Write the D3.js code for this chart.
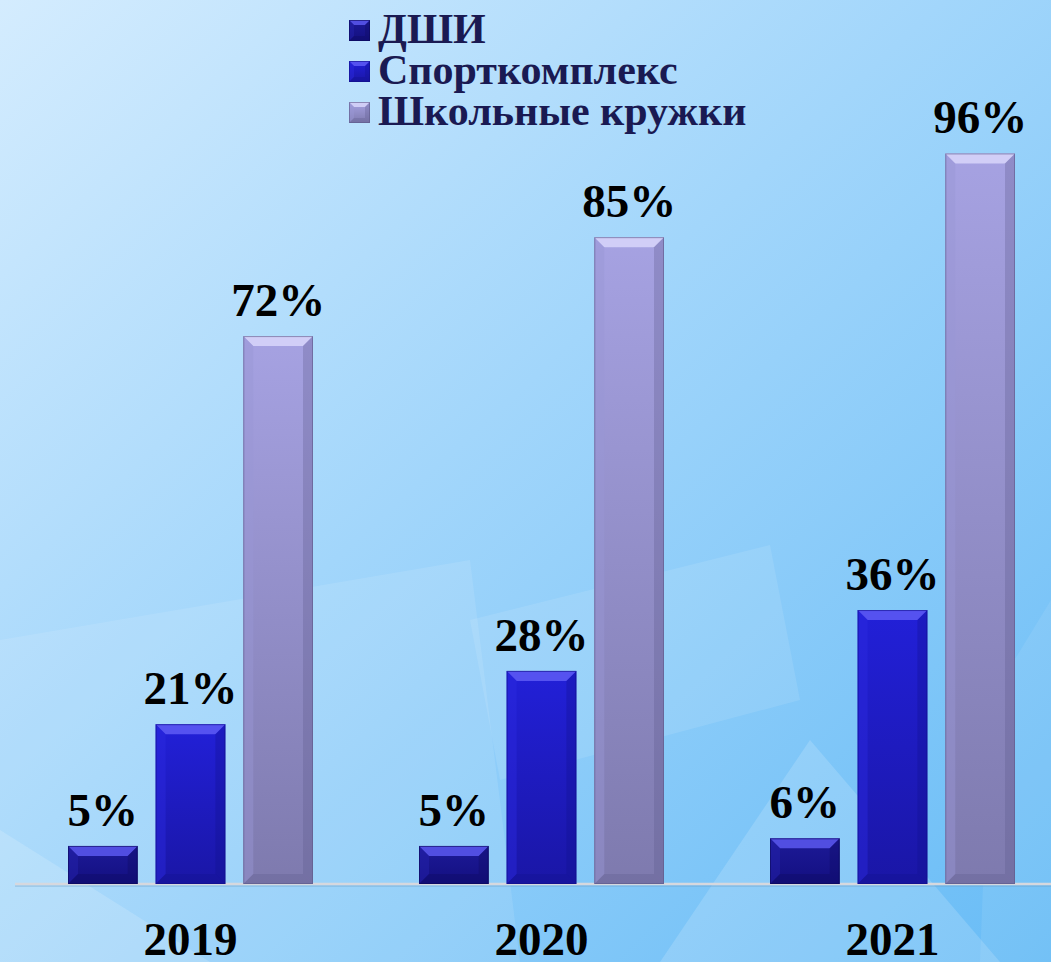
<!DOCTYPE html>
<html>
<head>
<meta charset="utf-8">
<script src="https://cdn.jsdelivr.net/npm/d3@7"></script>
<style>
  html, body { margin: 0; padding: 0; overflow: hidden; }
  svg { display: block; }
</style>
</head>
<body>
<div id="chart"></div>
<script>
var years = ["2019", "2020", "2021"];
var seriesNames = ["ДШИ", "Спорткомплекс", "Школьные кружки"];
var dshi = [5, 5, 6];
var sport = [21, 28, 36];
var kruzhki = [72, 85, 96];

var width = 1051, height = 962;
var baseY = 884;

var seriesValues = [dshi, sport, kruzhki];
var palette = [
  { top: "#1d1a98", bottom: "#130f80", bevel: "#5a58ee", side: "#2624b0", dark: "#0c0a5a" },
  { top: "#2220d8", bottom: "#1a16a6", bevel: "#5e5cf4", side: "#2c2ae0", dark: "#10108a" },
  { top: "#a6a2e2", bottom: "#7e7aae", bevel: "#d8d6fa", side: "#9a96d4", dark: "#5e5a8a" }
];

var svg = d3.select("#chart").append("svg")
  .attr("width", width)
  .attr("height", height);

var defs = svg.append("defs");

// background
var bg = defs.append("linearGradient").attr("id", "bg")
  .attr("x1", "0").attr("y1", "0").attr("x2", "1").attr("y2", "1");
bg.append("stop").attr("offset", "0").attr("stop-color", "#d4ecfe");
bg.append("stop").attr("offset", "0.45").attr("stop-color", "#a2d6fb");
bg.append("stop").attr("offset", "1").attr("stop-color", "#68bcf6");

svg.append("rect").attr("width", width).attr("height", height).attr("fill", "url(#bg)");

var shapes = [
  { pts: [[0, 640], [470, 560], [520, 962], [0, 962]], o: 0.1 },
  { pts: [[0, 830], [210, 962], [0, 962]], o: 0.16 },
  { pts: [[470, 620], [770, 545], [800, 700], [500, 780]], o: 0.1 },
  { pts: [[660, 962], [810, 740], [1000, 962]], o: 0.16 },
  { pts: [[990, 700], [1051, 600], [1051, 962], [980, 962]], o: 0.08 }
];
svg.append("g").selectAll("polygon")
  .data(shapes)
  .enter()
  .append("polygon")
  .attr("points", function (d) { return d.pts.map(function (p) { return p.join(","); }).join(" "); })
  .attr("fill", "#ffffff")
  .attr("opacity", function (d) { return d.o; });

palette.forEach(function (p, i) {
  var g = defs.append("linearGradient").attr("id", "bar" + i)
    .attr("x1", "0").attr("y1", "0").attr("x2", "0").attr("y2", "1");
  g.append("stop").attr("offset", "0").attr("stop-color", p.top);
  g.append("stop").attr("offset", "1").attr("stop-color", p.bottom);
});

var x0 = d3.scaleBand().domain(years).range([15, 1068]).paddingInner(0.302).paddingOuter(0.151);
var x1 = d3.scaleBand().domain(d3.range(seriesNames.length)).range([0, x0.bandwidth()]).paddingInner(0.2045);
var y = d3.scaleLinear().domain([0, 100]).range([baseY, 123]);

// baseline
svg.append("line")
  .attr("x1", 15).attr("x2", width)
  .attr("y1", baseY + 2).attr("y2", baseY + 2)
  .attr("stroke", "#6a9cc4").attr("stroke-width", 1).attr("opacity", 0.6);
svg.append("line")
  .attr("x1", 15).attr("x2", width)
  .attr("y1", baseY).attr("y2", baseY)
  .attr("stroke", "#d6d8de").attr("stroke-width", 2.5);

function drawBevelBox(sel, bx, by, bw, bh, i, e) {
  var p = palette[i];
  e = Math.min(e, bh / 2, bw / 2);
  sel.append("rect")
    .attr("x", bx).attr("y", by).attr("width", bw).attr("height", bh)
    .attr("fill", "url(#bar" + i + ")");
  // top bevel
  sel.append("polygon")
    .attr("points", [[bx, by], [bx + bw, by], [bx + bw - e, by + e], [bx + e, by + e]].join(" "))
    .attr("fill", p.bevel).attr("opacity", 0.85);
  // left bevel
  sel.append("polygon")
    .attr("points", [[bx, by], [bx + e, by + e], [bx + e, by + bh - e], [bx, by + bh]].join(" "))
    .attr("fill", p.side).attr("opacity", 0.45);
  // right bevel
  sel.append("polygon")
    .attr("points", [[bx + bw, by], [bx + bw - e, by + e], [bx + bw - e, by + bh - e], [bx + bw, by + bh]].join(" "))
    .attr("fill", p.dark).attr("opacity", 0.3);
  // bottom bevel
  sel.append("polygon")
    .attr("points", [[bx, by + bh], [bx + e, by + bh - e], [bx + bw - e, by + bh - e], [bx + bw, by + bh]].join(" "))
    .attr("fill", p.dark).attr("opacity", 0.3);
  sel.append("rect")
    .attr("x", bx + 0.5).attr("y", by + 0.5).attr("width", bw - 1).attr("height", bh - 1)
    .attr("fill", "none").attr("stroke", p.dark).attr("stroke-width", 1).attr("opacity", 0.6);
}

var groups = svg.append("g").selectAll("g")
  .data(years)
  .enter()
  .append("g")
  .attr("transform", function (d) { return "translate(" + x0(d) + ",0)"; });

groups.each(function (year, yi) {
  var g = d3.select(this);
  seriesValues.forEach(function (vals, si) {
    var v = vals[yi];
    var bx = x1(si), by = y(v), bw = x1.bandwidth(), bh = baseY - y(v);
    drawBevelBox(g.append("g"), bx, by, bw, bh, si, 10);
    g.append("text")
      .attr("x", bx + bw / 2)
      .attr("y", by - 20)
      .attr("text-anchor", "middle")
      .attr("font-family", "'Liberation Serif', 'Times New Roman', serif")
      .attr("font-weight", "bold")
      .attr("font-size", 47)
      .attr("fill", "#000")
      .text(v + "%");
  });
});

// category labels
svg.append("g").selectAll("text")
  .data(years)
  .enter()
  .append("text")
  .attr("x", function (d) { return x0(d) + x0.bandwidth() / 2; })
  .attr("y", 955)
  .attr("text-anchor", "middle")
  .attr("font-family", "'Liberation Serif', 'Times New Roman', serif")
  .attr("font-weight", "bold")
  .attr("font-size", 47)
  .attr("fill", "#000")
  .text(function (d) { return d; });

// legend
var legendY = [43, 84, 125];
var legend = svg.append("g").selectAll("g")
  .data(seriesNames)
  .enter()
  .append("g")
  .attr("transform", function (d, i) { return "translate(349," + legendY[i] + ")"; });

legend.each(function (d, i) {
  drawBevelBox(d3.select(this), 0, -23, 21, 21, i, 5);
});
legend.append("text")
  .attr("x", 29)
  .attr("y", 0)
  .attr("font-family", "'Liberation Serif', 'Times New Roman', serif")
  .attr("font-weight", "bold")
  .attr("font-size", 42)
  .attr("fill", "#1a1a52")
  .text(function (d) { return d; });
</script>
</body>
</html>
